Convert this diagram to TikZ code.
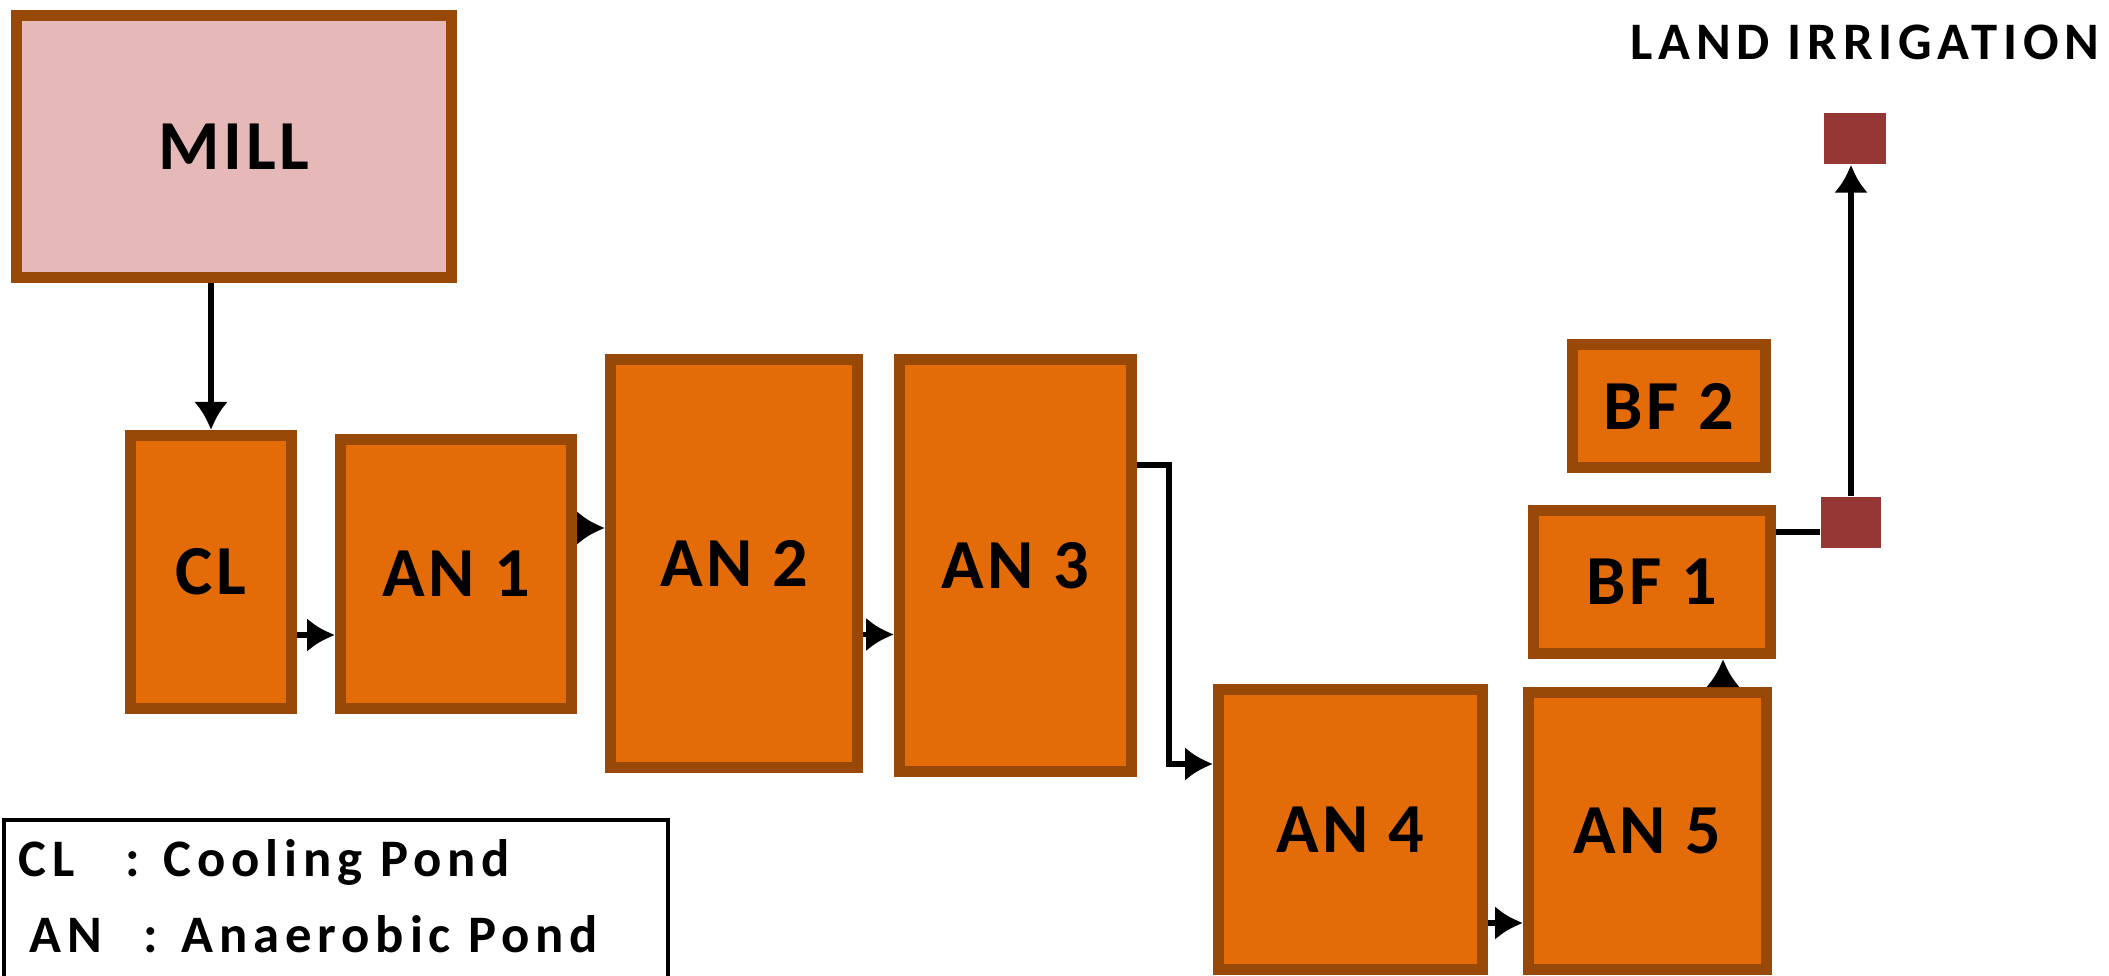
\documentclass[tikz,border=0pt]{standalone}
\usepackage{fontspec}
\setmainfont{Carlito}
\newfontfamily\labelfont{Carlito}[LetterSpace=5]
\newfontfamily\keyfont{Carlito}[LetterSpace=11]
\usetikzlibrary{arrows.meta}
\definecolor{pondfill}{RGB}{227,108,9}
\definecolor{pondedge}{RGB}{152,72,7}
\definecolor{millfill}{RGB}{230,185,184}
\definecolor{valvefill}{RGB}{149,55,53}
\tikzset{
  pond/.style={draw=pondedge, fill=pondfill, line width=1.1mm, inner sep=0pt,
    font=\fontsize{20}{24}\labelfont\bfseries},
  valve/.style={fill=valvefill, inner sep=0pt, minimum width=6mm, minimum height=5.1mm},
  flow/.style={line width=1.7pt, -{Latex[length=2.8mm,width=3.4mm]}},
  keytext/.style={anchor=base west, inner sep=0pt, font=\fontsize{15}{18}\keyfont\bfseries}
}

\begin{document}
\begin{tikzpicture}
\useasboundingbox (0,0) rectangle (21.09,9.75);

%Mill and ponds
\node[pond, fill=millfill, minimum width=43.5mm, minimum height=26.2mm] (mill) at (2.34,8.285) {MILL};
\node[pond, minimum width=16.1mm, minimum height=27.3mm] (cl) at (2.11,4.03) {CL};
\node[pond, minimum width=23.1mm, minimum height=26.9mm] (an1) at (4.56,4.01) {AN 1};
\node[pond, minimum width=24.7mm, minimum height=40.8mm] (an2) at (7.34,4.115) {AN 2};
\node[pond, minimum width=23.2mm, minimum height=41.2mm] (an3) at (10.155,4.095) {AN 3};
\node[pond, minimum width=26.4mm, minimum height=28.0mm] (an4) at (13.505,1.455) {AN 4};
\node[pond, minimum width=23.8mm, minimum height=27.7mm] (an5) at (16.475,1.44) {AN 5};
\node[pond, minimum width=23.7mm, minimum height=14.3mm] (bf1) at (16.52,3.93) {BF 1};
\node[pond, minimum width=19.3mm, minimum height=12.3mm] (bf2) at (16.69,5.69) {BF 2};

%Outlet to the land
\node[valve] (junction) at (18.51,4.525) {};
\node[valve, minimum width=6.2mm] (field) at (18.55,8.365) {};
\node[anchor=base, inner sep=0pt, font=\fontsize{15}{18}\keyfont\bfseries] (irrigation) at (18.65,9.15) {LAND IRRIGATION};

%Flow lines
\draw[flow] (mill.south -| cl.north) -- (cl.north);
\draw[flow] ([yshift=-6.3mm]cl.east) -- ([yshift=-6.3mm]cl.east -| an1.west);
\draw[flow] ([yshift=4.6mm]an1.east) -- ([yshift=4.6mm]an1.east -| an2.west);
\draw[flow] ([yshift=-7.1mm]an2.east) -- ([yshift=-7.1mm]an2.east -| an3.west);
\draw[flow] ([yshift=10.05mm]an3.east) -- ++(3.2mm,0) |- ([yshift=6.55mm]an4.west);
\draw[flow] ([yshift=-9.35mm]an4.east) -- ([yshift=-9.35mm]an4.east -| an5.west);
\draw[flow] ([xshift=7.55mm]an5.north) -- ([xshift=7.55mm]an5.north |- bf1.south);
\draw[line width=1.7pt] ([yshift=5mm]bf1.east) -- ([yshift=5mm]bf1.east -| junction.west);
\draw[flow] (junction.north) -- (junction.north |- field.south);

%Key
\draw[line width=0.4mm] (0.04,-0.3) rectangle (6.68,1.55);
\node[keytext] (keycl) at (0.18,0.99) {\makebox[10.7mm][l]{CL}: Cooling Pond};
\node[keytext] (keyan) at (0.29,0.23) {\makebox[11.4mm][l]{AN}: Anaerobic Pond};

\end{tikzpicture}
\end{document}
